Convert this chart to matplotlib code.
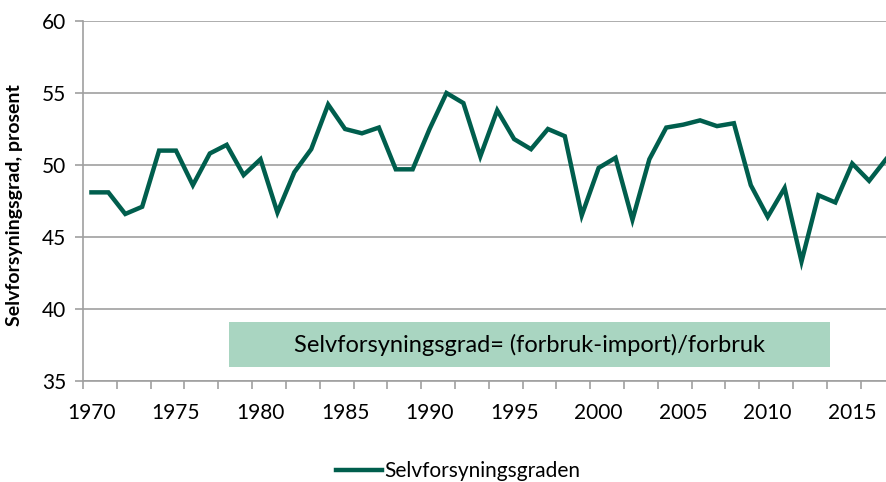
import matplotlib.pyplot as plt
from matplotlib.patches import Rectangle

# data
years = list(range(1970, 2018))
grad = [48.1, 48.1, 46.6, 47.1, 51.0, 51.0, 48.6, 50.8, 51.4, 49.3,
        50.4, 46.7, 49.5, 51.1, 54.2, 52.5, 52.2, 52.6, 49.7, 49.7,
        52.5, 55.0, 54.3, 50.6, 53.8, 51.8, 51.1, 52.5, 52.0, 46.5,
        49.8, 50.5, 46.2, 50.4, 52.6, 52.8, 53.1, 52.7, 52.9, 48.6,
        46.4, 48.4, 43.3, 47.9, 47.4, 50.1, 48.9, 50.4]
label_years = [1970, 1975, 1980, 1985, 1990, 1995, 2000, 2005, 2010, 2015]
y_ticks = [35, 40, 45, 50, 55, 60]
serie_navn = 'Selvforsyningsgraden'
boks_tekst = 'Selvforsyningsgrad= (forbruk-import)/forbruk'

plt.rcParams['font.family'] = ['Lato', 'DejaVu Sans']

fig = plt.figure(figsize=(8.87, 4.82), dpi=100)
ax = fig.add_axes([83/887, 101/482, 811.5/887, 360/482])

gray = '#a0a0a0'
ax.plot(years, grad, color='#005e4d', lw=3.2, solid_joinstyle='miter',
        label=serie_navn, zorder=3)

ax.set_xlim(1969.5, 2017.5)
ax.set_ylim(35, 60)
ax.set_yticks(y_ticks)
ax.grid(axis='y', color=gray, lw=1.2, zorder=0)

# ticks between categories, labels every 5 years
ax.set_xticks([1969.5 + 2*i for i in range(25)])
ax.set_xticklabels([])
ax.set_xticks(label_years, minor=True)
ax.set_xticklabels([str(y) for y in label_years], minor=True)
ax.tick_params(axis='x', which='major', length=6, color=gray, width=1.2)
ax.tick_params(axis='x', which='minor', length=0, pad=16, labelsize=15)
ax.tick_params(axis='y', length=6, color=gray, width=1.2, pad=6, labelsize=15)

for s in ['top', 'right']:
    ax.spines[s].set_visible(False)
for s in ['left', 'bottom']:
    ax.spines[s].set_color(gray)
    ax.spines[s].set_linewidth(1.2)

ax.set_ylabel('Selvforsyningsgrad, prosent', fontsize=14, fontweight='bold')
ax.yaxis.set_label_coords(-0.074, 0.49)

# text box
ax.add_patch(Rectangle((1978.15, 36.0), 35.55, 3.1, facecolor='#a9d5c1',
                       edgecolor='none', zorder=2))
ax.text(1978.15 + 35.55/2, 37.5, boks_tekst, ha='center', va='center',
        fontsize=17, zorder=4)

fig.legend(loc='center', bbox_to_anchor=(458/887, 1 - 471/482), frameon=False,
           fontsize=15, handlelength=2.2, handletextpad=0.1)

fig.savefig('out.png', dpi=100)
